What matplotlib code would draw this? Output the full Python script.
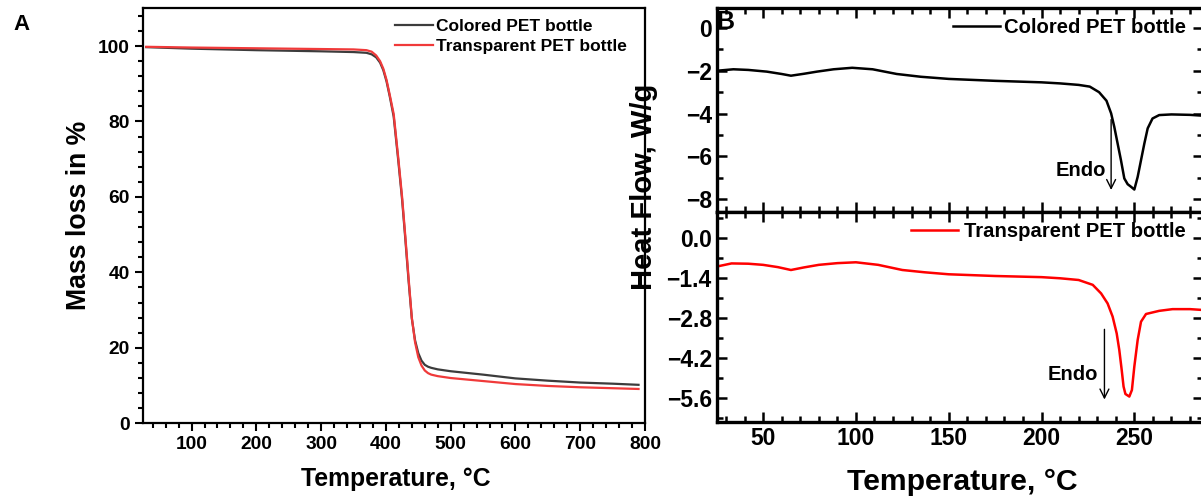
import matplotlib
matplotlib.use('Agg')
import matplotlib.pyplot as plt
from matplotlib.ticker import MultipleLocator, FixedLocator

plt.rcParams['font.family'] = ['Liberation Sans', 'DejaVu Sans']
plt.rcParams['font.weight'] = 'bold'
plt.rcParams['axes.labelweight'] = 'bold'

# TGA data (panel A)
tga_temp = [30, 100, 200, 300, 350, 370, 378, 385, 391, 396, 401, 406, 412, 419, 425, 430,
            435, 440, 445, 450, 455, 460, 465, 470, 480, 500, 550, 600, 650, 700, 750, 790]
tga_colored = [99.7, 99.3, 98.9, 98.6, 98.4, 98.2, 97.8, 97.0, 95.6, 93.6, 90.6, 86.6, 81.3, 69.8,
               59.3, 48.8, 37.8, 27.8, 22.0, 18.6, 16.6, 15.5, 15.0, 14.7, 14.3, 13.8, 12.9, 11.9,
               11.3, 10.8, 10.5, 10.2]
tga_transparent = [99.8, 99.6, 99.4, 99.2, 99.1, 98.9, 98.5, 97.5, 96.0, 94.0, 91.0, 87.0, 82.0,
                   70.5, 60.0, 49.5, 38.5, 28.0, 21.5, 17.5, 15.3, 14.0, 13.3, 12.9, 12.5, 12.0,
                   11.2, 10.4, 9.9, 9.55, 9.3, 9.1]

# DSC data (panel B)
dsc_temp_colored = [25, 34, 42, 52, 60, 65, 72, 79, 88, 98, 109, 122, 135, 150, 175, 200, 210, 220,
                    226, 231, 235, 237.5, 239.2, 241, 242.8, 244.6, 246.4, 248.2, 250, 251.8, 253.6,
                    255.4, 257.2, 259.8, 263.4, 270, 280, 287]
dsc_colored = [-2.0, -1.93, -1.96, -2.04, -2.15, -2.23, -2.14, -2.04, -1.93, -1.86, -1.93, -2.15,
               -2.28, -2.38, -2.47, -2.54, -2.59, -2.66, -2.74, -3.0, -3.4, -3.99, -4.62, -5.40,
               -6.18, -7.03, -7.30, -7.42, -7.55, -6.96, -6.18, -5.40, -4.69, -4.23, -4.07, -4.04,
               -4.06, -4.1]
dsc_temp_transparent = [25, 33, 42, 50, 58, 65, 72, 80, 90, 100, 112, 125, 137, 150, 175, 200, 210,
                        220, 227.6, 232.1, 235.6, 238.3, 240.5, 241.9, 243.2, 244.2, 245.2, 247.3,
                        248.7, 250, 251.8, 253.6, 256.3, 263.4, 270.6, 280, 287]
dsc_transparent = [-1.0, -0.89, -0.9, -0.94, -1.02, -1.12, -1.03, -0.94, -0.88, -0.85, -0.94, -1.12,
                   -1.2, -1.27, -1.33, -1.37, -1.41, -1.47, -1.64, -1.94, -2.29, -2.75, -3.34, -3.92,
                   -4.62, -5.20, -5.46, -5.55, -5.32, -4.50, -3.57, -2.93, -2.66, -2.55, -2.49,
                   -2.49, -2.52]

W, H = 1201, 499
fig = plt.figure(figsize=(W / 100, H / 100), dpi=100)


def box(x0, y0, x1, y1):
    # pixel box (top-left origin) -> figure fraction rect
    return [x0 / W, 1 - y1 / H, (x1 - x0) / W, (y1 - y0) / H]


# ---- Panel A ----
axA = fig.add_axes(box(143, 8.3, 645, 423.3))
axA.plot(tga_temp, tga_colored, color='#3c3c3c', lw=1.6, label='Colored PET bottle')
axA.plot(tga_temp, tga_transparent, color='#f03a3a', lw=1.6, label='Transparent PET bottle')
axA.set_xlim(25, 800)
axA.set_ylim(0, 110)
axA.xaxis.set_major_locator(FixedLocator([100, 200, 300, 400, 500, 600, 700, 800]))
axA.xaxis.set_minor_locator(MultipleLocator(20))
axA.yaxis.set_major_locator(FixedLocator([0, 20, 40, 60, 80, 100]))
axA.yaxis.set_minor_locator(MultipleLocator(4))
axA.tick_params(which='both', direction='out', width=1.5, labelsize=13.8)
axA.tick_params(which='major', length=6)
axA.tick_params(which='minor', length=3.5)
for sp in axA.spines.values():
    sp.set_linewidth(1.6)
axA.set_xlabel('Temperature, °C', fontsize=17.8)
axA.set_ylabel('Mass loss in %', fontsize=19.2)
axA.xaxis.set_label_coords(0.504, -0.105)
axA.yaxis.set_label_coords(-0.102, 0.5)
axA.legend(loc='upper right', frameon=False, fontsize=12.5, handlelength=2.2, handletextpad=0.2,
           borderaxespad=0.2, labelspacing=0.3, bbox_to_anchor=(0.985, 1.0))
fig.text(22 / W, 1 - 25 / H, 'A', fontsize=16, fontweight='bold', ha='center', va='center')

# ---- Panel B ----
axB1 = fig.add_axes(box(716.7, 8.3, 1203, 212))
axB2 = fig.add_axes(box(716.7, 212, 1203, 421.7))

axB1.plot(dsc_temp_colored, dsc_colored, color='black', lw=1.8, label='Colored PET bottle')
axB2.plot(dsc_temp_transparent, dsc_transparent, color='#ff0000', lw=1.8,
          label='Transparent PET bottle')

axB1.set_ylim(-8.6, 0.92)
axB2.set_ylim(-6.43, 0.91)
axB1.yaxis.set_major_locator(MultipleLocator(2))
axB1.yaxis.set_minor_locator(MultipleLocator(1))
axB2.yaxis.set_major_locator(FixedLocator([0.0, -1.4, -2.8, -4.2, -5.6]))
axB2.yaxis.set_minor_locator(FixedLocator([0.7, -0.7, -2.1, -3.5, -4.9, -6.3]))
axB2.yaxis.set_major_formatter(plt.FuncFormatter(lambda v, p: f'{v:.1f}'.replace('-', '\u2212')))

for ax in (axB1, axB2):
    ax.set_xlim(25, 287)
    ax.xaxis.set_major_locator(FixedLocator([50, 100, 150, 200, 250]))
    ax.xaxis.set_minor_locator(MultipleLocator(10))
    ax.tick_params(which='both', direction='in', top=True, right=True, width=1.8, labelsize=16.5)
    ax.tick_params(which='major', length=7)
    ax.tick_params(which='minor', length=4)
    for sp in ax.spines.values():
        sp.set_linewidth(2.4)
axB1.tick_params(labelbottom=False)

axB1.legend(loc='upper right', frameon=False, fontsize=14.6, handlelength=2.3, handletextpad=0.2,
            borderaxespad=0.1, bbox_to_anchor=(0.985, 1.0))
axB2.legend(loc='upper right', frameon=False, fontsize=14.6, handlelength=2.3, handletextpad=0.3,
            borderaxespad=0.1, bbox_to_anchor=(0.985, 1.0))

axB1.annotate('', xy=(237.5, -7.7), xytext=(237.5, -4.15),
              arrowprops=dict(arrowstyle='->', color='black', lw=1.0, mutation_scale=16))
axB1.text(234.5, -6.65, 'Endo', fontsize=14.5, fontweight='bold', ha='right', va='center')
axB2.annotate('', xy=(233.9, -5.75), xytext=(233.9, -3.1),
              arrowprops=dict(arrowstyle='->', color='black', lw=1.0, mutation_scale=16))
axB2.text(230.5, -4.78, 'Endo', fontsize=14.5, fontweight='bold', ha='right', va='center')

fig.text(725 / W, 1 - 22 / H, 'B', fontsize=18, fontweight='bold', ha='center', va='center')
fig.text(644 / W, 1 - 187 / H, 'Heat Flow, W/g', fontsize=21, fontweight='bold', rotation=90,
         ha='center', va='center')
fig.text(962 / W, 1 - 482 / H, 'Temperature, °C', fontsize=21.7, fontweight='bold', ha='center',
         va='center')

fig.savefig('out.png', dpi=100)
